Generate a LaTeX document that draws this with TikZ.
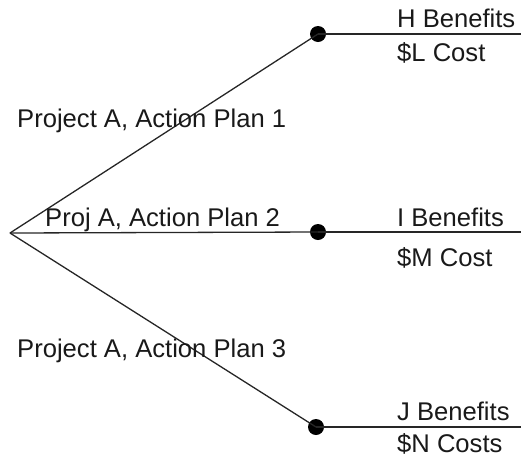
\documentclass[tikz,border=0pt]{standalone}
\usepackage{fontspec}
\setmainfont{Liberation Sans}
\begin{document}
\begin{tikzpicture}[x=1pt,y=-1pt,
  line/.style={line width=1.3pt, black!85},
  dot/.style={circle, fill=black, inner sep=0pt, minimum size=16pt},
  lab/.style={anchor=base west, inner sep=0pt, font=\fontsize{25.6}{30}\selectfont, text=black!90}]
\useasboundingbox (0,0) rectangle (521,459);
\coordinate (root) at (10,233);
\node[dot] (d1) at (318,34) {};
\node[dot] (d2) at (318,232) {};
\node[dot] (d3) at (316,427) {};
\coordinate (e1) at (521,34);
\coordinate (e2) at (521,232);
\coordinate (e3) at (521,427);
\draw[line] (root) -- (d1.center);
\draw[line] (root) -- (d2.center);
\draw[line] (root) -- (d3.center);
\draw[line] (d1.center) -- (e1);
\draw[line] (d2.center) -- (e2);
\draw[line] (d3.center) -- (e3);
\node[lab] (h) at (397,27) {H Benefits};
\node[lab] (l) at (397,61) {\$L Cost};
\node[lab] (p1) at (17,127) {Project A, Action Plan 1};
\node[lab] (p2) at (45,226) {Proj A, Action Plan 2};
\node[lab] (i) at (397,226) {I Benefits};
\node[lab] (m) at (397,266) {\$M Cost};
\node[lab] (p3) at (17,357) {Project A, Action Plan 3};
\node[lab] (j) at (397,420) {J Benefits};
\node[lab] (n) at (397,452) {\$N Costs};
\end{tikzpicture}
\end{document}
